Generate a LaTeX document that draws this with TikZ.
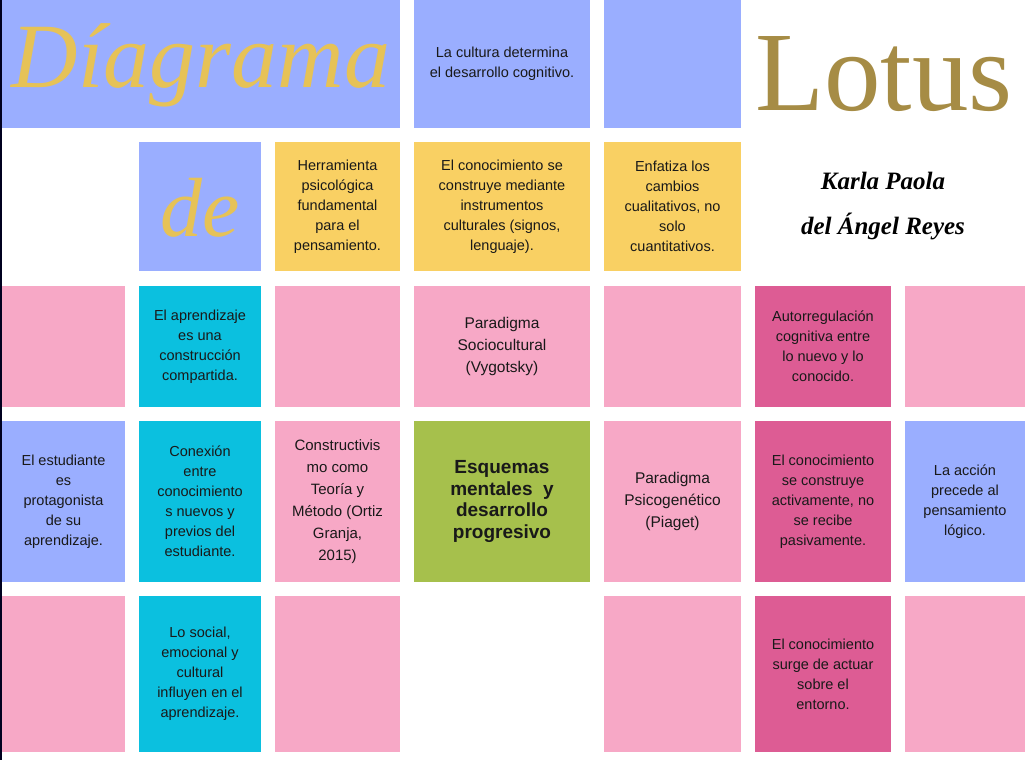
\documentclass[tikz,border=0pt]{standalone}
\usepackage{fontspec}
\setmainfont{Liberation Sans}
\newfontfamily\serifttl{Liberation Serif}
\usepackage{tikz}

\definecolor{azul}{HTML}{9AAEFF}
\definecolor{amarillo}{HTML}{F9D063}
\definecolor{rosa}{HTML}{F7A8C6}
\definecolor{fucsia}{HTML}{DD5C94}
\definecolor{cian}{HTML}{0BC0DF}
\definecolor{verde}{HTML}{A6C04C}
\definecolor{oro}{HTML}{E6C257}
\definecolor{bronce}{HTML}{A68C45}

\tikzset{
  cell/.style={rectangle, inner sep=0pt, align=center, text=black!90,
    font=\fontsize{14.5}{20}\selectfont},
  w1/.style={minimum width=123pt}, w2/.style={minimum width=122pt},
  w3/.style={minimum width=125pt}, w4/.style={minimum width=176pt},
  w5/.style={minimum width=137pt}, w6/.style={minimum width=136pt},
  w7/.style={minimum width=120pt},
  h1/.style={minimum height=128pt}, h2/.style={minimum height=129pt},
  h3/.style={minimum height=121pt}, h4/.style={minimum height=161pt},
  h5/.style={minimum height=156pt},
}

\begin{document}
\begin{tikzpicture}[x=1pt, y=-1pt]
    \useasboundingbox (0,0) rectangle (1025,760);
    \fill[white] (0,0) rectangle (1025,760);
    \fill[black!88!blue] (0,0) rectangle (2,760);
    % Title row
    \node[cell, fill=azul, minimum width=398pt, h1] (titulo) at (201,64) {};
    \node[anchor=base, text=oro, font=\serifttl\itshape\fontsize{92}{92}\selectfont] (diagrama) at (201,88) {Díagrama};
    \node[cell, fill=azul, w4, h1] (cultura) at (502,64) {La cultura determina\\el desarrollo cognitivo.};
    \node[cell, fill=azul, w5, h1] (r1c5) at (672.5,64) {};
    \node[anchor=base, text=bronce, font=\serifttl\fontsize{113}{113}\selectfont] (lotus) at (884,110) {Lotus};
    % Second row
    \node[cell, fill=azul, w2, h2] (r2c2) at (200,206.5) {};
    \node[anchor=base, text=oro, font=\serifttl\itshape\fontsize{84}{84}\selectfont] (de) at (200,236) {de};
    \node[cell, fill=amarillo, w3, h2] (herramienta) at (337.5,206.5) {Herramienta\\psicológica\\fundamental\\para el\\pensamiento.};
    \node[cell, fill=amarillo, w4, h2] (instrumentos) at (502,206.5) {El conocimiento se\\construye mediante\\instrumentos\\culturales (signos,\\lenguaje).};
    \node[cell, fill=amarillo, w5, h2] (cambios) at (672.5,206.5) {Enfatiza los\\cambios\\cualitativos, no\\solo\\cuantitativos.};
    \node[align=center, font=\serifttl\bfseries\itshape\fontsize{25}{45}\selectfont] (autora) at (883,206) {Karla Paola\\del Ángel Reyes};
    % Third row
    \node[cell, fill=rosa, w1, h3] (r3c1) at (63.5,346.5) {};
    \node[cell, fill=cian, w2, h3] (compartida) at (200,346.5) {El aprendizaje\\es una\\construcción\\compartida.};
    \node[cell, fill=rosa, w3, h3] (r3c3) at (337.5,346.5) {};
    \node[cell, fill=rosa, w4, h3, font=\fontsize{15.5}{22}\selectfont] (vygotsky) at (502,346.5) {Paradigma\\Sociocultural\\(Vygotsky)};
    \node[cell, fill=rosa, w5, h3] (r3c5) at (672.5,346.5) {};
    \node[cell, fill=fucsia, w6, h3] (autorregulacion) at (823,346.5) {Autorregulación\\cognitiva entre\\lo nuevo y lo\\conocido.};
    \node[cell, fill=rosa, w7, h3] (r3c7) at (965,346.5) {};
    % Fourth row
    \node[cell, fill=azul, w1, h4] (protagonista) at (63.5,501.5) {El estudiante\\es\\protagonista\\de su\\aprendizaje.};
    \node[cell, fill=cian, w2, h4] (conexion) at (200,501.5) {Conexión\\entre\\conocimiento\\s nuevos y\\previos del\\estudiante.};
    \node[cell, fill=rosa, w3, h4, font=\fontsize{15}{22}\selectfont] (constructivismo) at (337.5,501.5) {Constructivis\\mo como\\Teoría y\\Método (Ortiz\\Granja,\\2015)};
    \node[cell, fill=verde, w4, h4, font=\bfseries\fontsize{19}{21.5}\selectfont] (esquemas) at (502,501.5) {Esquemas\\mentales\ \ y\\desarrollo\\progresivo};
    \node[cell, fill=rosa, w5, h4, font=\fontsize{15.5}{22}\selectfont] (piaget) at (672.5,501.5) {Paradigma\\Psicogenético\\(Piaget)};
    \node[cell, fill=fucsia, w6, h4] (activamente) at (823,501.5) {El conocimiento\\se construye\\activamente, no\\se recibe\\pasivamente.};
    \node[cell, fill=azul, w7, h4] (accion) at (965,501.5) {La acción\\precede al\\pensamiento\\lógico.};
    % Fifth row
    \node[cell, fill=rosa, w1, h5] (r5c1) at (63.5,674) {};
    \node[cell, fill=cian, w2, h5] (social) at (200,674) {Lo social,\\emocional y\\cultural\\influyen en el\\aprendizaje.};
    \node[cell, fill=rosa, w3, h5] (r5c3) at (337.5,674) {};
    \node[cell, fill=rosa, w5, h5] (r5c5) at (672.5,674) {};
    \node[cell, fill=fucsia, w6, h5] (entorno) at (823,674) {El conocimiento\\surge de actuar\\sobre el\\entorno.};
    \node[cell, fill=rosa, w7, h5] (r5c7) at (965,674) {};
\end{tikzpicture}
\end{document}
